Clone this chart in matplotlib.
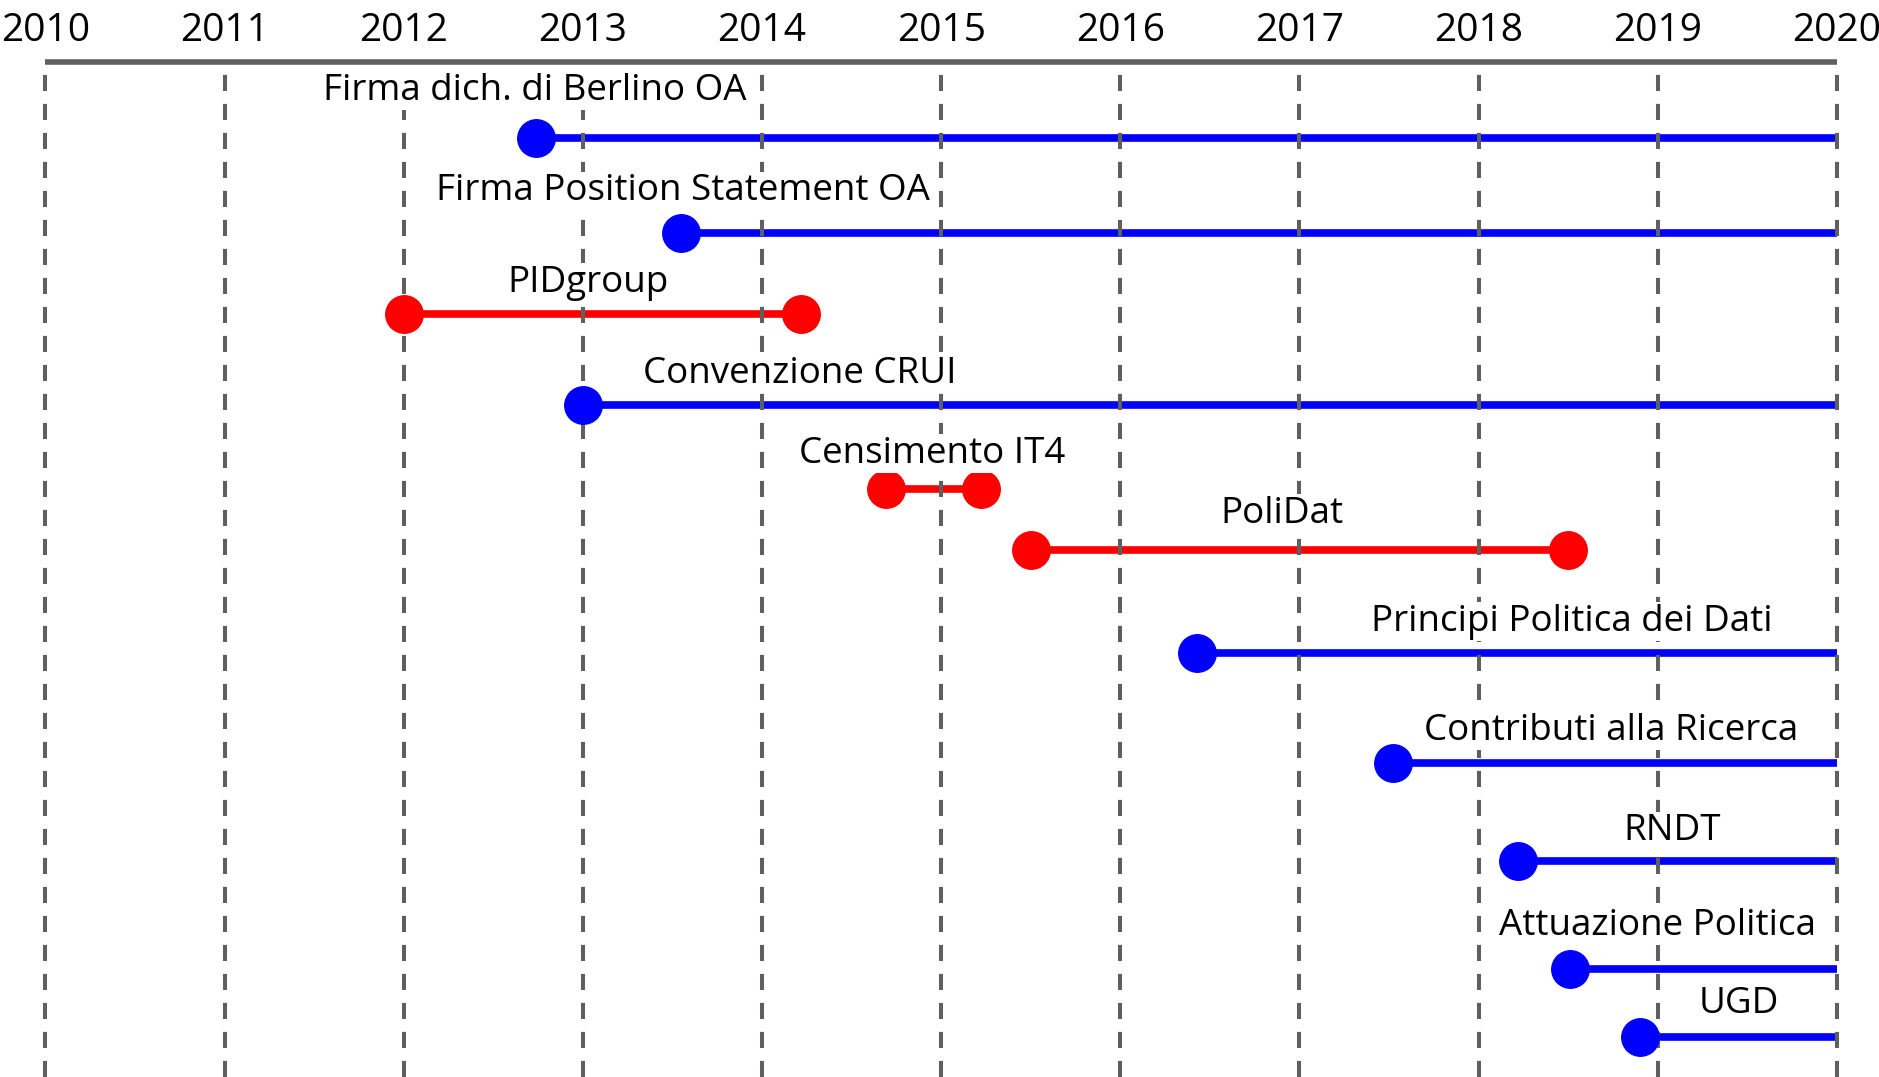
import matplotlib
matplotlib.use('Agg')
import matplotlib.pyplot as plt

plt.rcParams['font.family'] = ['Open Sans', 'DejaVu Sans']

# timeline entries
labels = ["Firma dich. di Berlino OA", "Firma Position Statement OA", "PIDgroup",
          "Convenzione CRUI", "Censimento IT4", "PoliDat",
          "Principi Politica dei Dati", "Contributi alla Ricerca", "RNDT",
          "Attuazione Politica", "UGD"]
start = [2012.74, 2013.55, 2012.0, 2013.0, 2014.69, 2015.5,
         2016.43, 2017.52, 2018.22, 2018.51, 2018.90]
end = [2020.0, 2020.0, 2014.22, 2020.0, 2015.22, 2018.5,
       2020.0, 2020.0, 2020.0, 2020.0, 2020.0]
closed = [False, False, True, False, True, True,
          False, False, False, False, False]
label_x = [2012.73, 2013.56, 2013.03, 2014.21, 2014.95, 2016.90,
           2018.52, 2018.74, 2019.08, 2019.0, 2019.45]
# vertical level of each row (top = small)
row_y = [115, 195, 262, 338, 408, 459, 545, 637, 719, 809, 866]
label_y = [76, 160, 236, 312, 379, 429, 519, 610, 694, 773, 838]

years = list(range(2010, 2021))

fig = plt.figure(figsize=(18.79, 10.77), dpi=100)
ax = fig.add_axes([0.0242, 0.0, 0.9534, 0.9424])
ax.set_xlim(2010, 2020)
ax.set_ylim(899, 52)
ax.axis('off')

grid_col = '#5f5f5f'
for yr in years:
    ax.axvline(yr, ymax=0.993, color=grid_col, lw=2.9,
               linestyle=(0, (4.0, 3.2)), zorder=4, clip_on=False)
ax.plot([2010, 2020], [52, 52], color=grid_col, lw=4, solid_capstyle='butt',
        clip_on=False, zorder=2)
for yr in years:
    ax.text(yr, 26, str(yr), ha='center', va='center', fontsize=28,
            clip_on=False)

for i in range(len(labels)):
    col = '#ff0000' if closed[i] else '#0000ff'
    ax.plot([start[i], end[i]], [row_y[i], row_y[i]], color=col, lw=5.5,
            solid_capstyle='butt', zorder=3, clip_on=False)
    ax.plot([start[i]], [row_y[i]], 'o', color=col, markersize=27, zorder=5,
            clip_on=False)
    if closed[i]:
        ax.plot([end[i]], [row_y[i]], 'o', color=col, markersize=27, zorder=5,
                clip_on=False)
    ax.text(label_x[i], label_y[i], labels[i], ha='center', va='center',
            fontsize=26.5, zorder=6,
            bbox=dict(facecolor='white', edgecolor='none', pad=1))

fig.savefig('out.png', dpi=100)
